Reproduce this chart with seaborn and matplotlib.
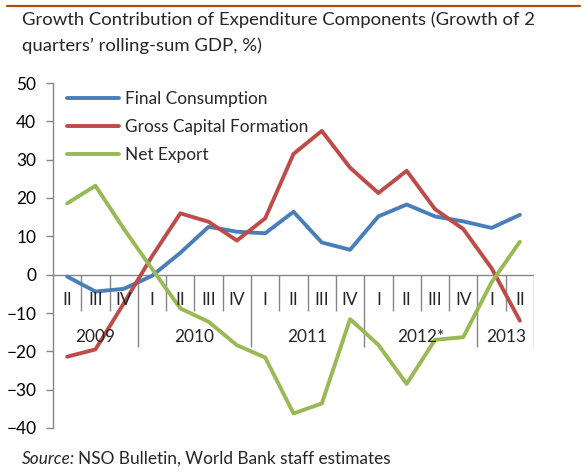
import numpy as np
import pandas as pd
import matplotlib
matplotlib.use("Agg")
import matplotlib.pyplot as plt
import seaborn as sns

# ---- data ----
quarters = ['II', 'III', 'IV', 'I', 'II', 'III', 'IV', 'I', 'II', 'III', 'IV',
            'I', 'II', 'III', 'IV', 'I', 'II']
years = ['2009', '2010', '2011', '2012*', '2013']
year_counts = [3, 4, 4, 4, 2]
final_consumption = [-0.5, -4.4, -3.7, -0.3, 5.7, 12.5, 11.2, 10.8, 16.4, 8.4, 6.5,
                     15.2, 18.3, 15.2, 13.9, 12.2, 15.6]
gross_capital = [-21.4, -19.5, -7.5, 4.8, 16.0, 13.8, 8.9, 14.7, 31.5, 37.5, 27.9,
                 21.3, 27.1, 17.1, 11.9, 1.7, -12.0]
net_export = [18.6, 23.2, 12.0, 1.5, -8.8, -12.3, -18.4, -21.6, -36.2, -33.6, -11.6,
              -18.3, -28.5, -17.0, -16.3, -2.0, 8.6]
series_names = ['Final Consumption', 'Gross Capital Formation', 'Net Export']
colors = ['#4A7EBB', '#BE4B48', '#98B954']

W, H = 587, 470
FS = 12.4
sns.set_style('white')
plt.rcParams['font.family'] = ['Lato', 'DejaVu Sans']

idx = np.arange(len(quarters))
df = pd.concat([
    pd.DataFrame({'pos': idx, 'value': vals, 'series': name})
    for name, vals in zip(series_names, [final_consumption, gross_capital, net_export])
])

fig = plt.figure(figsize=(W / 100, H / 100), dpi=100)
ax = fig.add_axes([53 / W, 1 - 428 / H, (534 - 53) / W, (428 - 83) / H])

sns.lineplot(data=df, x='pos', y='value', hue='series', hue_order=series_names,
             palette=dict(zip(series_names, colors)), linewidth=2.8, ax=ax,
             legend=True)

ax.set_xlim(-0.5, len(quarters) - 0.5)
ax.set_ylim(-40, 50)
ax.set_yticks(np.arange(-40, 51, 10))
ax.set_xticks([])
ax.set_xlabel('')
ax.set_ylabel('')
for s in ['top', 'right', 'bottom']:
    ax.spines[s].set_visible(False)
grey = '#868686'
ax.spines['left'].set_color(grey)
ax.spines['left'].set_linewidth(1.0)
ax.tick_params(axis='y', direction='out', length=5, width=1, color=grey,
               labelsize=FS, pad=7, left=True, labelcolor='black')

# zero category axis with multi-level labels
ax.axhline(0, color=grey, lw=1.0, zorder=1)
q_depth = -9.5
y_depth = -18.9
bounds_year = np.cumsum(year_counts) - 0.5
for b in np.arange(0.5, len(quarters) - 0.5, 1.0):
    depth = y_depth if np.any(np.isclose(bounds_year, b)) else q_depth
    ax.plot([b, b], [0, depth], color=grey, lw=1.0, zorder=1, solid_capstyle='butt')
ax.plot([len(quarters) - 0.5] * 2, [0, y_depth], color=grey, lw=1.0, zorder=1)
for i, q in enumerate(quarters):
    ax.text(i, -6.6, q, ha='center', va='center', fontsize=FS)
start = 0
for yname, cnt in zip(years, year_counts):
    ax.text(start + (cnt - 1) / 2, -16.3, yname, ha='center', va='center', fontsize=FS)
    start += cnt

leg = ax.legend(loc='upper left', bbox_to_anchor=(0.015, 0.998), frameon=False,
                fontsize=FS, handlelength=3.0, handletextpad=0.35, labelspacing=0.7,
                borderaxespad=0)
for line in leg.get_lines():
    line.set_linewidth(2.8)

# top rule
fig.add_artist(plt.Line2D([7 / W, 580 / W], [1 - 5.5 / H] * 2, color='#A8500E', lw=1.6))

# title
TS = 13.3
fig.text(22 / W, 1 - 20 / H, 'Growth Contribution of Expenditure Components (Growth of 2',
         fontsize=TS, va='center', ha='left')
fig.text(22 / W, 1 - 46 / H, 'quarters\u2019 rolling-sum GDP, %)',
         fontsize=TS, va='center', ha='left')

# source
t1 = fig.text(22 / W, 1 - 459 / H, 'Source:', fontsize=FS, style='italic',
              va='center', ha='left')
fig.canvas.draw()
bb = t1.get_window_extent(renderer=fig.canvas.get_renderer())
fig.text((bb.x1 + 3) / W, 1 - 459 / H, 'NSO Bulletin, World Bank staff estimates',
         fontsize=FS, va='center', ha='left')

fig.savefig('out.png', dpi=100)
